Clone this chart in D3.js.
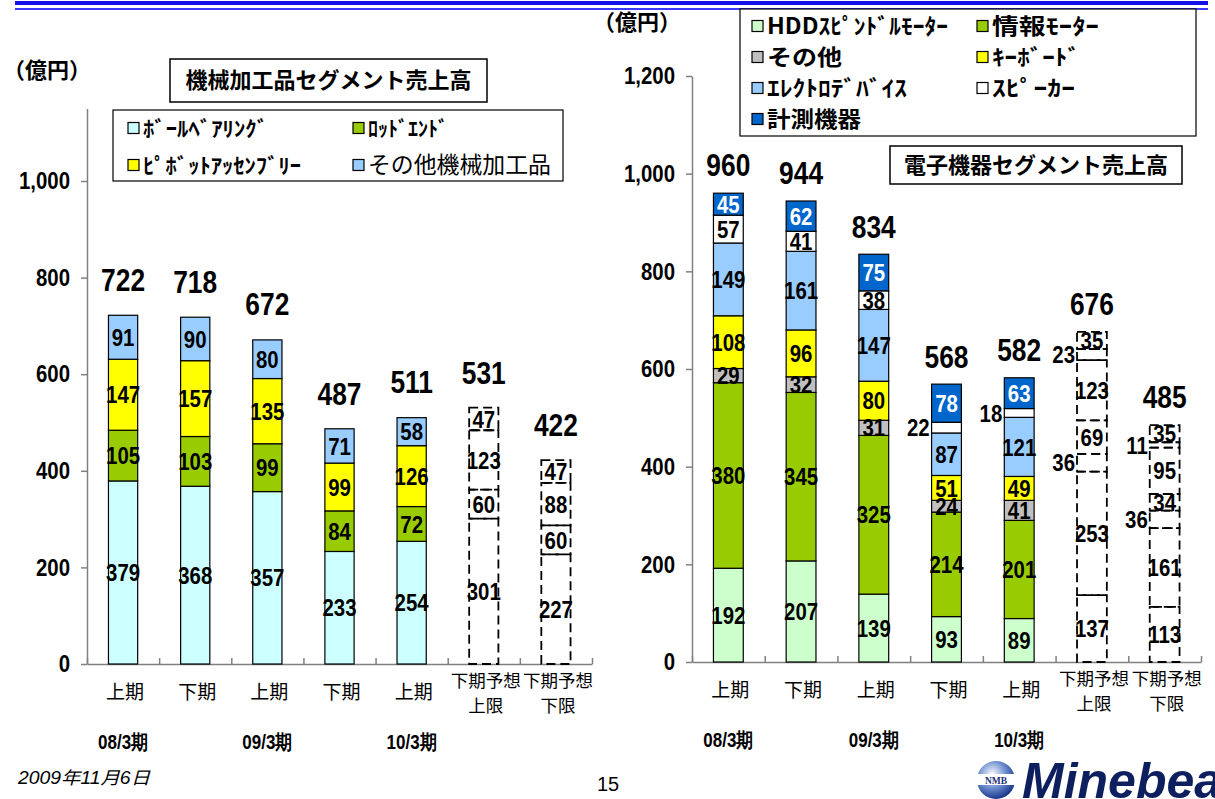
<!DOCTYPE html>
<html><head><meta charset="utf-8">
<script src="https://cdn.jsdelivr.net/npm/d3@7"></script>
<style>
body{margin:0;background:#fff;}
svg{display:block;}
.num{font-family:"Liberation Sans Narrow","Arial Narrow","Liberation Sans",sans-serif;font-weight:bold;}
.jp{font-family:"Noto Sans CJK JP",sans-serif;}
.jpb{font-family:"Noto Sans CJK JP",sans-serif;font-weight:bold;}
</style></head><body>
<svg id="c" width="1215" height="799"></svg>
<script>
// ---------- data ----------
const categories = ["08/3上期","08/3下期","09/3上期","09/3下期","10/3上期","10/3下期予想上限","10/3下期予想下限"];
const catLabels = [["上期"],["下期"],["上期"],["下期"],["上期"],["下期予想","上限"],["下期予想","下限"]];
const periodLabels = ["08/3期","09/3期","10/3期"];
const periodIndex = [0,2,4];
const isForecast = [false,false,false,false,false,true,true];

const machSeries = ["ﾎﾞｰﾙﾍﾞｱﾘﾝｸﾞ","ﾛｯﾄﾞｴﾝﾄﾞ","ﾋﾟﾎﾞｯﾄｱｯｾﾝﾌﾞﾘｰ","その他機械加工品"];
const ballBearing = [379,368,357,233,254,301,227];
const rodEnd      = [105,103,99,84,72,60,60];
const pivotAssy   = [147,157,135,99,126,123,88];
const otherMach   = [91,90,80,71,58,47,47];
const machTotals  = [722,718,672,487,511,531,422];
const machTicks   = [0,200,400,600,800,1000];

const elecSeries = ["HDDｽﾋﾟﾝﾄﾞﾙﾓｰﾀｰ","情報ﾓｰﾀｰ","その他","ｷｰﾎﾞｰﾄﾞ","ｴﾚｸﾄﾛﾃﾞﾊﾞｲｽ","ｽﾋﾟｰｶｰ","計測機器"];
const hddMotor      = [192,207,139,93,89,137,113];
const infoMotor     = [380,345,325,214,201,253,161];
const otherElec     = [29,32,31,24,41,36,36];
const keyboard      = [108,96,80,51,49,69,34];
const electroDevice = [149,161,147,87,121,123,95];
const speaker       = [57,41,38,22,18,23,11];
const measuring     = [45,62,75,78,63,35,35];
const elecTotals    = [960,944,834,568,582,676,485];
const elecTicks     = [0,200,400,600,800,1000,1200];
// segment labels drawn at the left of the bar: [series, category]
const elecOutsideLabels = [[5,3],[5,4],[2,5],[5,5],[2,6],[5,6]];

const machColors = ["#ccffff","#99cc00","#ffff00","#99ccff"];
const elecColors = ["#ccffcc","#99cc00","#c0c0c0","#ffff00","#99ccff","#ffffff","#0066cc"];
const elecLabelColors = ["#000","#000","#000","#000","#000","#000","#fff"];

// ---------- drawing ----------
const svg = d3.select("#c");
svg.append("rect").attr("x",15).attr("y",1).attr("width",1193).attr("height",4).attr("fill","#1212e8");
svg.append("rect").attr("x",15).attr("y",8).attr("width",1193).attr("height",2).attr("fill","#3a3aff");

function drawChart(o){
  const g = svg.append("g");
  const x = d3.scaleBand().domain(d3.range(categories.length)).range([o.x0,o.x1]);
  const y = d3.scaleLinear().domain([0,o.yMax]).range([o.yBase,o.yTop]);
  const bw = x.step()*o.barFrac;
  const rows = categories.map((c,i)=>{const r={i}; o.values.forEach((v,k)=>r[k]=v[i]); return r;});
  const layers = d3.stack().keys(d3.range(o.values.length))(rows);

  // y axis
  const ya = g.append("g").attr("transform",`translate(${o.x0},0)`)
    .call(d3.axisLeft(y).tickValues(o.ticks).tickSize(6).tickSizeOuter(0).tickPadding(11).tickFormat(d3.format(",")));
  ya.select(".domain").attr("stroke","#808080").attr("stroke-width",1.5);
  ya.selectAll(".tick line").attr("stroke","#808080").attr("stroke-width",1.5);
  ya.selectAll(".tick text").attr("class","num").attr("font-size",24).attr("fill","#000");

  // x axis
  const xl = d3.scaleLinear().domain([0,categories.length]).range([o.x0,o.x1]);
  const xa = g.append("g").attr("transform",`translate(0,${o.yBase})`)
    .call(d3.axisBottom(xl).ticks(categories.length).tickSize(-6).tickSizeOuter(0).tickFormat(""));
  xa.select(".domain").attr("stroke","#808080").attr("stroke-width",1.5);
  xa.selectAll(".tick line").attr("stroke","#808080").attr("stroke-width",1.5);

  const segs = [];
  layers.forEach((layer,k)=>layer.forEach((d,i)=>segs.push({k,i,y0:d[0],y1:d[1],v:o.values[k][i]})));

  // actual bars
  g.append("g").selectAll("rect").data(segs.filter(s=>!isForecast[s.i])).join("rect")
    .attr("x",s=>x(s.i)+(x.step()-bw)/2).attr("width",bw)
    .attr("y",s=>y(s.y1)).attr("height",s=>y(s.y0)-y(s.y1))
    .attr("fill",s=>o.colors[s.k]).attr("stroke","#000").attr("stroke-width",1.2);

  // segment labels
  const isOut = s=>o.outside.some(p=>p[0]===s.k&&p[1]===s.i);
  g.append("g").selectAll("text").data(segs).join("text")
    .attr("class","num").attr("font-size",24)
    .attr("x",s=>isOut(s)? x(s.i)+(x.step()-bw)/2-2 : x(s.i)+x.step()/2)
    .attr("y",s=>y((s.y0+s.y1)/2)).attr("dy","0.36em")
    .attr("text-anchor",s=>isOut(s)?"end":"middle")
    .attr("fill",s=>isForecast[s.i]?"#000":o.labelColors[s.k])
    .text(s=>s.v);

  // forecast dashed outlines
  g.append("g").selectAll("rect").data(segs.filter(s=>isForecast[s.i])).join("rect")
    .attr("x",s=>x(s.i)+(x.step()-bw)/2).attr("width",bw)
    .attr("y",s=>y(s.y1)).attr("height",s=>y(s.y0)-y(s.y1))
    .attr("fill","none").attr("stroke","#000").attr("stroke-width",1.8).attr("stroke-dasharray","9,5");

  // totals
  g.append("g").selectAll("text").data(o.totals).join("text")
    .attr("class","num").attr("font-size",31).attr("text-anchor","middle")
    .attr("x",(d,i)=>x(i)+x.step()/2).attr("y",d=>y(d)-o.totalGap).text(d=>d);

  // category labels
  catLabels.forEach((lines,i)=>{
    const cx = x(i)+x.step()/2;
    lines.forEach((t,j)=>{
      const cy = lines.length===1 ? o.yBase+28 : o.yBase+17+j*25;
      g.append("text").attr("class","jp").attr("font-size",lines.length===1?19:17.5).attr("text-anchor","middle")
        .attr("x",cx+2).attr("y",cy).attr("dy","0.36em").text(t);
    });
  });
  periodLabels.forEach((t,j)=>{
    const i = periodIndex[j];
    g.append("text").attr("class","num").attr("font-size",20).attr("text-anchor","middle")
      .attr("x",x(i)+x.step()/2).attr("y",o.yBase+78).attr("dy","0.36em").text(t);
  });

  // legend
  const lg = g.append("g");
  lg.append("rect").attr("x",o.legend.x).attr("y",o.legend.y).attr("width",o.legend.w).attr("height",o.legend.h)
    .attr("fill","#fff").attr("stroke","#000").attr("stroke-width",1.2);
  o.names.forEach((n,k)=>{
    const col = k%2, row = Math.floor(k/2);
    const lx = o.legend.x + o.legend.colX[col], ly = o.legend.y + o.legend.row0 + row*o.legend.rowH;
    lg.append("rect").attr("x",lx).attr("y",ly-5.5).attr("width",11).attr("height",11)
      .attr("fill",o.colors[k]).attr("stroke","#000").attr("stroke-width",1.2);
    lg.append("text").attr("class",o.legend.weight[k]?"jpb":"jp").attr("font-size",o.legend.fs[k])
      .attr("x",lx+15).attr("y",ly).attr("dy","0.36em")
      .attr("textLength",o.legend.tw[k]).attr("lengthAdjust","spacingAndGlyphs").text(n);
  });

  // title box
  const tb = o.title;
  g.append("rect").attr("x",tb.x).attr("y",tb.y).attr("width",tb.w).attr("height",tb.h)
    .attr("fill","#fff").attr("stroke","#000").attr("stroke-width",1.5);
  g.append("text").attr("class","jpb").attr("font-size",22).attr("text-anchor","middle")
    .attr("x",tb.x+tb.w/2).attr("y",tb.y+tb.h/2).attr("dy","0.36em").text(tb.text);

  // unit
  g.append("text").attr("class","jpb").attr("font-size",22).attr("text-anchor","middle")
    .attr("x",o.unit[0]).attr("y",o.unit[1]).attr("dy","0.36em").text("（億円）");
}

drawChart({
  x0:87, x1:592, yBase:664, yTop:664-1150*0.483, yMax:1150, barFrac:0.405,
  values:[ballBearing,rodEnd,pivotAssy,otherMach], names:machSeries, colors:machColors,
  labelColors:["#000","#000","#000","#000"], totals:machTotals, ticks:machTicks, totalGap:24,
  outside:[],
  legend:{x:113,y:110,w:450,h:71,colX:[15,240],row0:18,rowH:37,
          fs:[21,21,21,22.5],weight:[1,1,1,0],tw:[125,80,158,183]},
  title:{x:170,y:59,w:317,h:43,text:"機械加工品セグメント売上高"},
  unit:[47,70]
});
drawChart({
  x0:692, x1:1201, yBase:662, yTop:76, yMax:1200, barFrac:0.41,
  values:[hddMotor,infoMotor,otherElec,keyboard,electroDevice,speaker,measuring], names:elecSeries, colors:elecColors,
  labelColors:elecLabelColors, totals:elecTotals, ticks:elecTicks, totalGap:17,
  outside:elecOutsideLabels,
  legend:{x:740,y:9,w:456,h:127,colX:[12,237],row0:17,rowH:31,
          fs:[22,22,22,22,22,22,22],weight:[1,1,1,1,1,1,1],tw:[181,107,75,88,140,83,94]},
  title:{x:890,y:146,w:292,h:38,text:"電子機器セグメント売上高"},
  unit:[637,22]
});

// condense the bold numeric font like the original narrow face
svg.selectAll("text.num").each(function(){
  const l = this.getComputedTextLength();
  d3.select(this).attr("textLength", l*0.85).attr("lengthAdjust","spacingAndGlyphs");
});

// footer
svg.append("text").attr("x",18).attr("y",784).attr("font-size",17.5).attr("font-style","italic")
  .attr("font-family","'Liberation Sans','Noto Sans CJK JP',sans-serif")
  .attr("textLength",132).attr("lengthAdjust","spacingAndGlyphs").text("2009年11月6日");
svg.append("text").attr("x",608).attr("y",791).attr("font-size",20).attr("text-anchor","middle")
  .attr("font-family","'Liberation Sans',sans-serif").text("15");

// logo
const defs = svg.append("defs");
const rg = defs.append("radialGradient").attr("id","ball").attr("cx","40%").attr("cy","35%").attr("r","65%");
rg.append("stop").attr("offset","0%").attr("stop-color","#ffffff");
rg.append("stop").attr("offset","55%").attr("stop-color","#6f8fd0");
rg.append("stop").attr("offset","100%").attr("stop-color","#1c3a8c");
svg.append("circle").attr("cx",996).attr("cy",780).attr("r",19).attr("fill","url(#ball)");
svg.append("rect").attr("x",977).attr("y",774).attr("width",38).attr("height",11).attr("fill","#fff");
svg.append("text").attr("x",996).attr("y",783.5).attr("text-anchor","middle").attr("font-size",9.5)
  .attr("font-weight","bold").attr("font-family","'Liberation Serif',serif").attr("fill","#1c2f7a").text("NMB");
svg.append("text").attr("x",1022).attr("y",798).attr("font-size",50).attr("font-weight","bold").attr("font-style","italic")
  .attr("font-family","'Liberation Sans',sans-serif").attr("fill","#0d1f5e").text("Minebea");
</script>
</body></html>
